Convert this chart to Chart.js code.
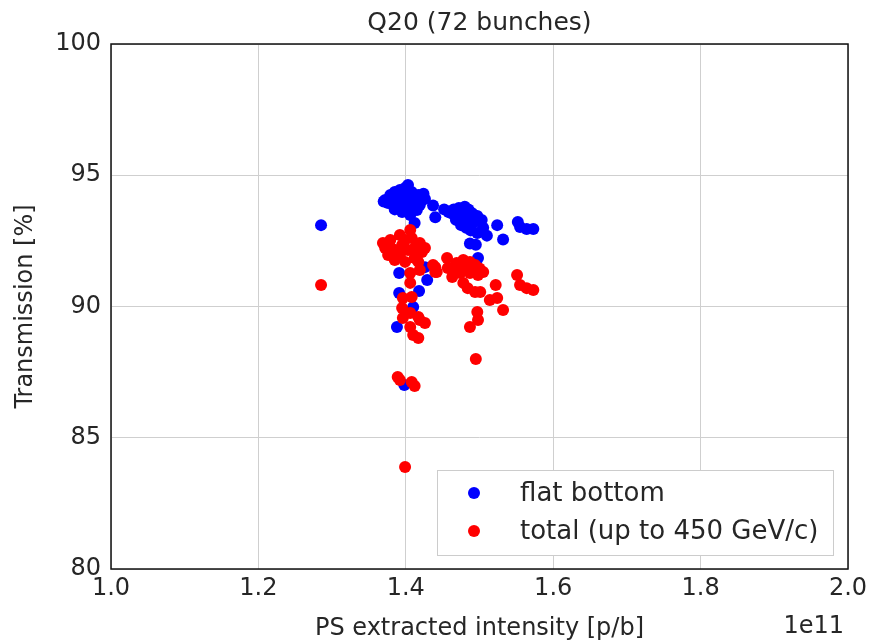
<!DOCTYPE html>
<html>
<head>
<meta charset="utf-8">
<script src="https://cdn.jsdelivr.net/npm/chart.js@4/dist/chart.umd.min.js"></script>
<style>
  html, body { margin: 0; padding: 0; background: #fff; }
  #wrap { width: 873px; height: 643px; }
</style>
</head>
<body>
<div id="wrap"><canvas id="plot" width="873" height="643"></canvas></div>
<script>
// values, x in units of 1e11 p/b
var flatBottomX = [1.285,
  1.372,1.379,1.385,1.392,1.399,1.403,1.408,1.417,1.422,1.419,1.412,1.403,1.392,1.383,1.376,
  1.389,1.399,1.408,1.395,1.385,1.406,1.415,1.370,1.395,1.402,1.380,1.412,1.424,1.426,
  1.437,1.440,1.452,1.458,1.465,1.472,1.480,1.485,1.490,1.497,1.503,1.470,1.478,1.485,
  1.492,1.475,1.482,1.488,1.497,1.505,1.510,1.524,1.532,1.487,1.495,1.498,1.462,1.468,
  1.552,1.555,1.564,1.573,
  1.412,1.391,1.426,1.429,1.391,1.418,1.410,1.388,1.398];
var flatBottomY = [93.10,
  94.06,94.25,94.36,94.44,94.51,94.63,94.36,94.25,94.06,93.87,93.75,93.68,93.79,93.87,93.94,
  94.13,94.13,94.06,93.60,93.70,93.49,93.68,94.00,94.00,93.90,94.10,94.20,94.30,94.10,
  93.85,93.40,93.70,93.60,93.70,93.75,93.80,93.70,93.55,93.45,93.30,93.50,93.40,93.30,
  93.20,93.10,93.00,92.90,92.80,93.00,92.70,93.10,92.55,92.40,92.35,91.85,93.55,93.30,
  93.22,93.03,92.95,92.95,
  93.18,91.28,91.50,91.01,90.51,90.59,89.98,89.22,87.01];

var totalX = [1.285,
  1.406,1.392,1.379,1.372,1.376,1.385,1.399,1.412,1.422,1.419,1.408,1.395,1.385,1.403,1.412,
  1.392,1.379,1.417,1.426,1.369,1.399,
  1.437,1.440,1.456,1.457,1.469,1.478,1.487,1.494,1.505,1.498,1.487,1.474,1.463,1.478,1.484,
  1.494,1.501,1.522,1.514,1.524,1.532,1.497,1.498,1.487,1.551,1.555,1.564,1.573,1.495,
  1.465,1.480,1.490,1.500,
  1.406,1.419,1.440,1.442,1.406,1.396,1.408,1.395,1.406,1.396,1.417,1.426,1.419,1.406,
  1.410,1.417,1.389,1.392,1.408,1.412,1.399];
var totalY = [90.82,
  92.91,92.72,92.53,92.23,91.96,91.77,91.70,91.85,92.08,92.42,92.61,92.34,92.15,92.15,92.23,
  91.96,92.27,91.70,92.23,92.42,92.53,
  91.58,91.31,91.85,91.47,91.66,91.77,91.70,91.58,91.31,91.20,91.28,91.28,91.12,90.90,90.70,
  90.55,90.55,90.82,90.25,90.32,89.87,89.79,89.49,89.22,91.20,90.82,90.70,90.63,88.00,
  91.47,91.47,91.50,91.45,
  91.28,91.39,91.50,91.31,90.90,90.32,90.36,89.94,89.75,89.56,89.60,89.37,89.49,89.22,
  88.91,88.80,87.31,87.20,87.12,86.97,83.89];

var seriesNames = ['flat bottom', 'total (up to 450 GeV/c)'];
var seriesColors = ['#0000ff', '#ff0000'];
var xTicks = [1.0, 1.2, 1.4, 1.6, 1.8, 2.0];
var yTicks = [80, 85, 90, 95, 100];
var titleText = 'Q20 (72 bunches)';
var xExponent = '1e11';

function pairs(xs, ys) {
  return xs.map(function(x, i){ return {x: x, y: ys[i]}; });
}

var FONT = 'DejaVu Sans';
var INK = '#262626';

var extras = {
  id: 'extras',
  afterDraw: function(chart) {
    var c = chart.ctx, a = chart.chartArea;
    c.save();
    // frame
    c.strokeStyle = '#111';
    c.lineWidth = 1.5;
    c.strokeRect(a.left, a.top, a.right - a.left, a.bottom - a.top);
    // title
    c.fillStyle = INK;
    c.font = '25px "' + FONT + '"';
    c.textAlign = 'center';
    c.textBaseline = 'middle';
    c.fillText(titleText, (a.left + a.right) / 2, 23);
    // offset text
    c.font = '24px "' + FONT + '"';
    c.textAlign = 'right';
    c.fillText(xExponent, a.right - 4, 627);
    // legend
    var bx = 437, by = 470, bw = 396, bh = 85;
    c.fillStyle = '#fff';
    c.fillRect(bx, by, bw, bh);
    c.strokeStyle = '#cccccc';
    c.lineWidth = 1;
    c.strokeRect(bx + 0.5, by + 0.5, bw, bh);
    c.textAlign = 'left';
    c.font = '26px "' + FONT + '"';
    chart.data.datasets.forEach(function(ds, i) {
      var cy = by + 23 + i * 38;
      c.fillStyle = ds.backgroundColor;
      c.beginPath();
      c.arc(bx + 37, cy, 6, 0, Math.PI * 2);
      c.fill();
      c.fillStyle = INK;
      c.fillText(ds.label, bx + 83, cy + 1);
    });
    c.restore();
  }
};

new Chart(document.getElementById('plot'), {
  type: 'scatter',
  data: {
    datasets: [
      { label: seriesNames[0], data: pairs(flatBottomX, flatBottomY), backgroundColor: seriesColors[0],
        borderWidth: 0, pointRadius: 6, order: 2 },
      { label: seriesNames[1], data: pairs(totalX, totalY), backgroundColor: seriesColors[1],
        borderWidth: 0, pointRadius: 6, order: 1 }
    ]
  },
  options: {
    responsive: false,
    animation: false,
    layout: { padding: { top: 44, right: 25, left: 11, bottom: 0 } },
    plugins: { legend: { display: false }, tooltip: { enabled: false }, title: { display: false } },
    scales: {
      x: {
        type: 'linear', min: 1.0, max: 2.0,
        afterBuildTicks: function(s){ s.ticks = xTicks.map(function(v){ return {value: v}; }); },
        afterFit: function(s){ s.height = 74; },
        grid: { color: '#cfcfcf', lineWidth: 1, drawTicks: false },
        border: { display: false },
        ticks: { font: { family: FONT, size: 24 }, color: INK, padding: 5,
                 maxRotation: 0, callback: function(v){ return v.toFixed(1); } },
        title: { display: true, text: 'PS extracted intensity [p/b]', font: { family: FONT, size: 24 },
                 color: INK, padding: { top: 0, bottom: 0 } }
      },
      y: {
        type: 'linear', min: 80, max: 100,
        afterBuildTicks: function(s){ s.ticks = yTicks.map(function(v){ return {value: v}; }); },
        afterFit: function(s){ s.width = 100; },
        grid: { color: '#cfcfcf', lineWidth: 1, drawTicks: false },
        border: { display: false },
        ticks: { font: { family: FONT, size: 24 }, color: INK, padding: 10 },
        title: { display: true, text: 'Transmission [%]', font: { family: FONT, size: 24 },
                 color: INK, padding: { top: 0, bottom: 0 } }
      }
    }
  },
  plugins: [extras]
});
</script>
</body>
</html>
